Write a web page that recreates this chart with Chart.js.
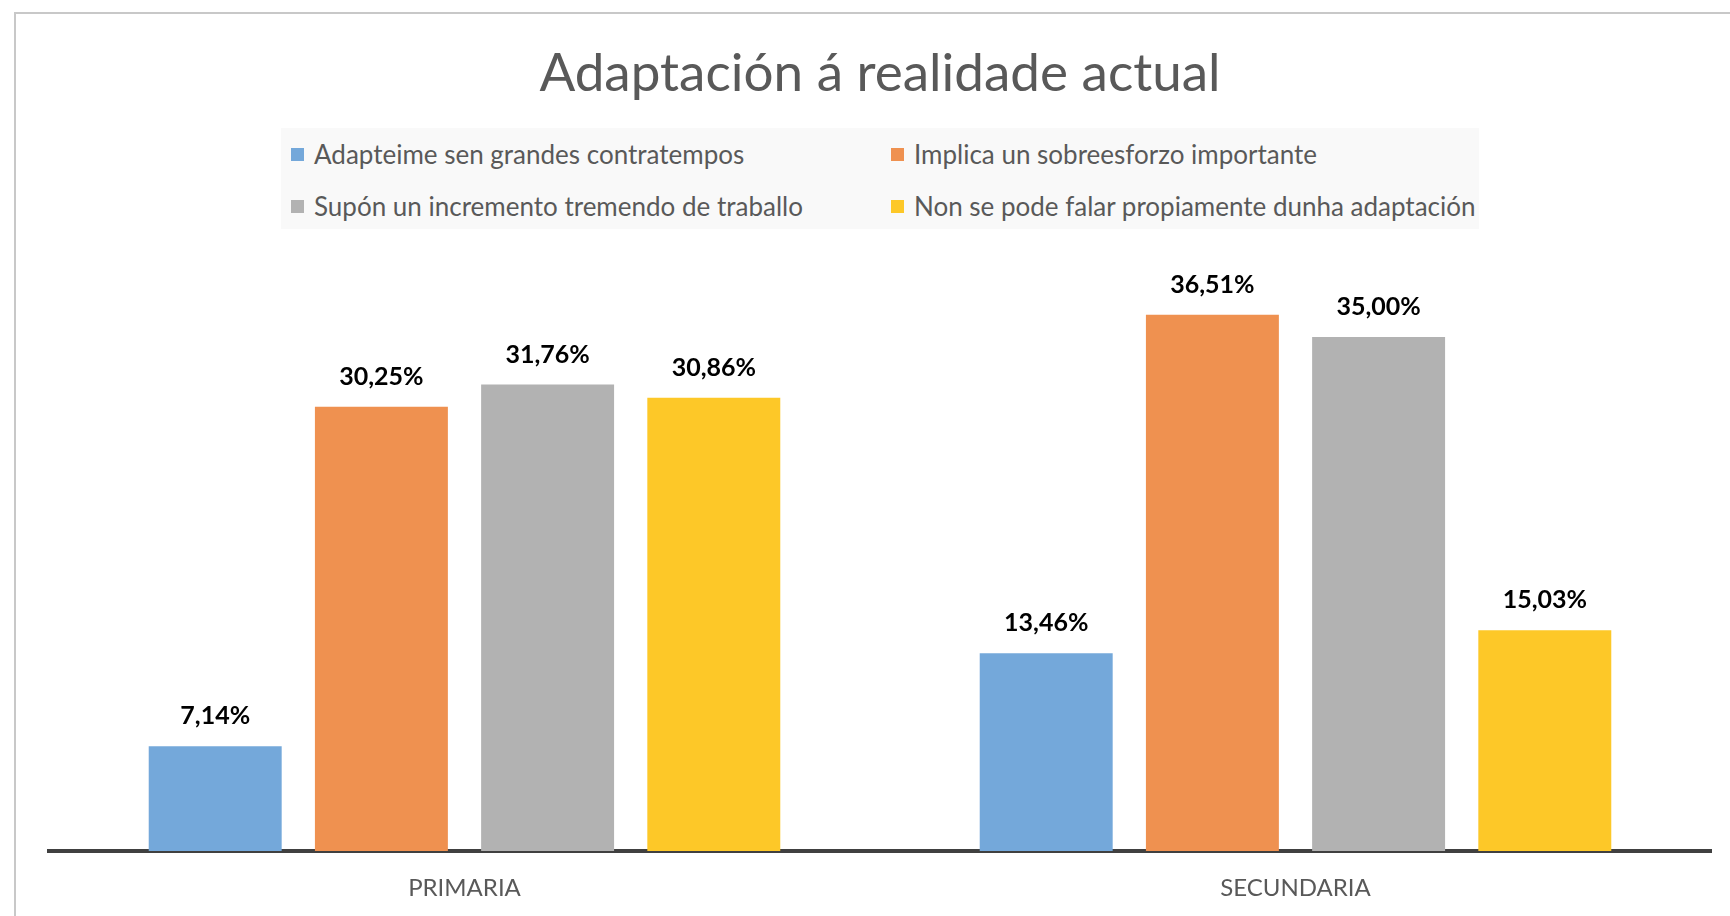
<!DOCTYPE html>
<html>
<head>
<meta charset="utf-8">
<script src="https://cdn.jsdelivr.net/npm/chart.js@4.4.0/dist/chart.umd.min.js"></script>
<style>
  html, body { margin: 0; padding: 0; background: #fff; }
  #wrap { position: relative; width: 1730px; height: 916px; }
  #legend {
    position: absolute; left: 281px; top: 128px; width: 1198px; height: 101px;
    background: #f9f9f9;
  }
  #legend ul {
    list-style: none; margin: 0; padding: 0 0 0 10px;
    display: grid; grid-template-columns: 600px 588px; grid-auto-rows: 52px;
  }
  #legend li {
    display: flex; align-items: center; white-space: nowrap;
    font-family: Lato, sans-serif; font-size: 26px; color: #595959;
  }
  #legend li span.box { width: 13px; height: 13px; margin-right: 10px; flex: none; }
</style>
</head>
<body>
<div id="wrap">
  <canvas id="chart" width="1730" height="916"></canvas>
  <div id="legend"></div>
</div>
<script>
const categories = ['PRIMARIA', 'SECUNDARIA'];
const seriesNames = [
  'Adapteime sen grandes contratempos',
  'Implica un sobreesforzo importante',
  'Supón un incremento tremendo de traballo',
  'Non se pode falar propiamente dunha adaptación'
];
const adapteime = [7.14, 13.46];
const implica = [30.25, 36.51];
const supon = [31.76, 35.00];
const nonSePode = [30.86, 15.03];
const barColors = ['#74A8DA', '#EF9150', '#B2B2B2', '#FDC828'];

const seriesValues = [adapteime, implica, supon, nonSePode];

// grey frame of the chart box (only top and left edges are visible)
const frame = {
  id: 'frame',
  beforeDraw(chart) {
    const ctx = chart.ctx;
    ctx.save();
    ctx.strokeStyle = '#c8c8c8';
    ctx.lineWidth = 2;
    ctx.beginPath();
    ctx.moveTo(15, chart.height);
    ctx.lineTo(15, 13);
    ctx.lineTo(chart.width, 13);
    ctx.stroke();
    ctx.restore();
  }
};

const valueLabels = {
  id: 'valueLabels',
  afterDatasetsDraw(chart) {
    const ctx = chart.ctx;
    ctx.save();
    ctx.font = 'bold 25px Lato, sans-serif';
    ctx.fillStyle = '#000';
    ctx.textAlign = 'center';
    ctx.textBaseline = 'middle';
    chart.data.datasets.forEach((ds, i) => {
      chart.getDatasetMeta(i).data.forEach((bar, j) => {
        const txt = ds.data[j].toFixed(2).replace('.', ',') + '%';
        ctx.fillText(txt, bar.x, bar.y - 30);
      });
    });
    ctx.restore();
  }
};

// legend as a two-column grid, like the original
const htmlLegend = {
  id: 'htmlLegend',
  afterUpdate(chart) {
    const box = document.getElementById('legend');
    box.innerHTML = '';
    const ul = document.createElement('ul');
    const items = Chart.defaults.plugins.legend.labels.generateLabels(chart);
    items.forEach(item => {
      const li = document.createElement('li');
      const sq = document.createElement('span');
      sq.className = 'box';
      sq.style.background = item.fillStyle;
      li.appendChild(sq);
      li.appendChild(document.createTextNode(item.text));
      ul.appendChild(li);
    });
    box.appendChild(ul);
  }
};

new Chart(document.getElementById('chart'), {
  type: 'bar',
  data: {
    labels: categories,
    datasets: seriesNames.map((name, i) => ({
      label: name,
      data: seriesValues[i],
      backgroundColor: barColors[i],
      borderWidth: 0,
      categoryPercentage: 0.8,
      barPercentage: 0.8
    }))
  },
  options: {
    responsive: false,
    animation: false,
    layout: { padding: { left: 49, right: 19, top: 0, bottom: 14 } },
    plugins: {
      legend: { display: false },
      tooltip: { enabled: false },
      title: {
        display: true,
        text: 'Adaptación á realidade actual',
        color: '#595959',
        font: { family: 'Lato, sans-serif', size: 53, weight: 'normal' },
        padding: { top: 42, bottom: 158 }
      }
    },
    scales: {
      x: {
        grid: { display: false, drawTicks: false },
        border: { display: true, color: '#404040', width: 4 },
        ticks: {
          color: '#595959',
          font: { family: 'Lato, sans-serif', size: 24 },
          padding: 23
        },
        afterFit(scale) { scale.height = 51; }
      },
      y: { display: false, min: 0, max: 40 }
    }
  },
  plugins: [frame, valueLabels, htmlLegend]
});
</script>
</body>
</html>
